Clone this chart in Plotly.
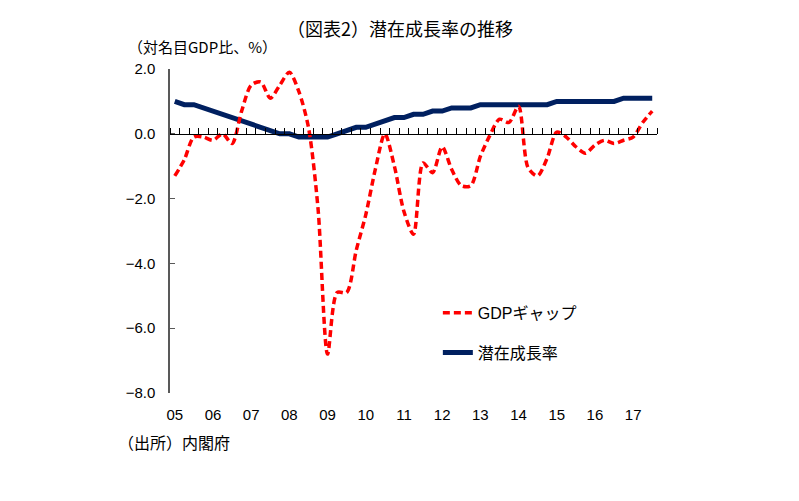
import plotly.graph_objects as go

# Quarterly categories 2005Q1 - 2017Q3
years = list(range(2005, 2018))
quarters = [f"{y}Q{q}" for y in years for q in range(1, 5)][:51]
year_labels = ["05", "06", "07", "08", "09", "10", "11", "12", "13", "14", "15", "16", "17"]

# GDP gap (% of nominal GDP)
gdp_gap = [-1.3, -0.8, -0.1, -0.1, -0.2, 0.0, -0.3, 0.7,
           1.5, 1.6, 1.1, 1.5, 1.9, 1.3, 0.2, -2.3,
           -6.8, -4.9, -4.9, -3.6, -2.5, -1.1, 0.0, -1.0,
           -2.4, -3.1, -0.9, -1.2, -0.4, -1.1, -1.6, -1.6,
           -0.7, -0.05, 0.45, 0.35, 0.85, -1.05, -1.3, -0.75,
           0.05, -0.1, -0.4, -0.6, -0.35, -0.2, -0.3, -0.2,
           -0.1, 0.35, 0.7]

# Potential growth rate
potential = [1.0, 0.9, 0.9, 0.8, 0.7, 0.6, 0.5, 0.4,
             0.3, 0.2, 0.1, 0.0, 0.0, -0.1, -0.1, -0.1,
             -0.1, 0.0, 0.1, 0.2, 0.2, 0.3, 0.4, 0.5,
             0.5, 0.6, 0.6, 0.7, 0.7, 0.8, 0.8, 0.8,
             0.9, 0.9, 0.9, 0.9, 0.9, 0.9, 0.9, 0.9,
             1.0, 1.0, 1.0, 1.0, 1.0, 1.0, 1.0, 1.1,
             1.1, 1.1, 1.1]

y_ticks = [2, 0, -2, -4, -6, -8]

# category positions on a numeric scale (one unit per quarter)
xpos = list(range(len(quarters)))
year_pos = [quarters.index(f"{y}Q1") for y in years]

FONT = "Liberation Sans, Noto Sans CJK JP, sans-serif"
JP = "Noto Sans CJK JP"

fig = go.Figure()
fig.add_trace(go.Scatter(
    x=xpos, y=gdp_gap, name="GDPギャップ", mode="lines", text=quarters,
    line=dict(color="#FF0000", width=3.5, dash="7px,4px", shape="spline", smoothing=0.8),
    xaxis="x2", yaxis="y", legendgroup="a",
))
fig.add_trace(go.Scatter(
    x=xpos, y=potential, name="潜在成長率", mode="lines", text=quarters,
    line=dict(color="#002060", width=5),
    xaxis="x", yaxis="y", legendgroup="b",
))

rng = [-0.5, len(quarters) - 0.5]
fig.update_layout(
    width=799, height=501,
    margin=dict(l=162, r=150, t=61, b=116),
    paper_bgcolor="white", plot_bgcolor="white",
    font=dict(family=FONT, color="#000000", size=15),
    showlegend=True,
    legend=dict(x=0.55, y=0.30, xanchor="left", yanchor="top",
                font=dict(size=16), tracegroupgap=16,
                bgcolor="rgba(0,0,0,0)", traceorder="grouped"),
    xaxis=dict(range=rng, tickmode="array", tickvals=year_pos, ticktext=year_labels,
               showline=False, ticks="", showgrid=False, zeroline=False,
               tickfont=dict(size=15), ticklabelstandoff=11),
    xaxis2=dict(range=rng, overlaying="x", anchor="free", position=0.8, side="top",
                tickmode="linear", tick0=-0.5, dtick=1,
                ticks="outside", ticklen=6, tickcolor="#000000", tickwidth=1,
                showline=True, linecolor="#000000", linewidth=1,
                showticklabels=False, showgrid=False, zeroline=False),
    yaxis=dict(range=[-8, 2], tickmode="array", tickvals=y_ticks, tickformat=".1f",
               ticks="inside", ticklen=5, tickcolor="#595959",
               showline=True, linecolor="#595959", linewidth=1.5,
               showgrid=False, zeroline=False, tickfont=dict(size=15),
               ticklabelstandoff=10),
    annotations=[
        dict(text="（図表2）潜在成長率の推移", x=0.4713, y=1.1265, xref="paper", yref="paper",
             xanchor="center", yanchor="middle", showarrow=False,
             font=dict(size=18, family=JP)),
        dict(text="（対名目GDP比、%）", x=-0.0903, y=1.0694, xref="paper", yref="paper",
             xanchor="left", yanchor="middle", showarrow=False,
             font=dict(size=15, family=JP)),
        dict(text="（出所）内閣府", x=-0.111, y=-0.151, xref="paper", yref="paper",
             xanchor="left", yanchor="middle", showarrow=False,
             font=dict(size=16, family=JP)),
    ],
)

fig.write_html("out.html")
